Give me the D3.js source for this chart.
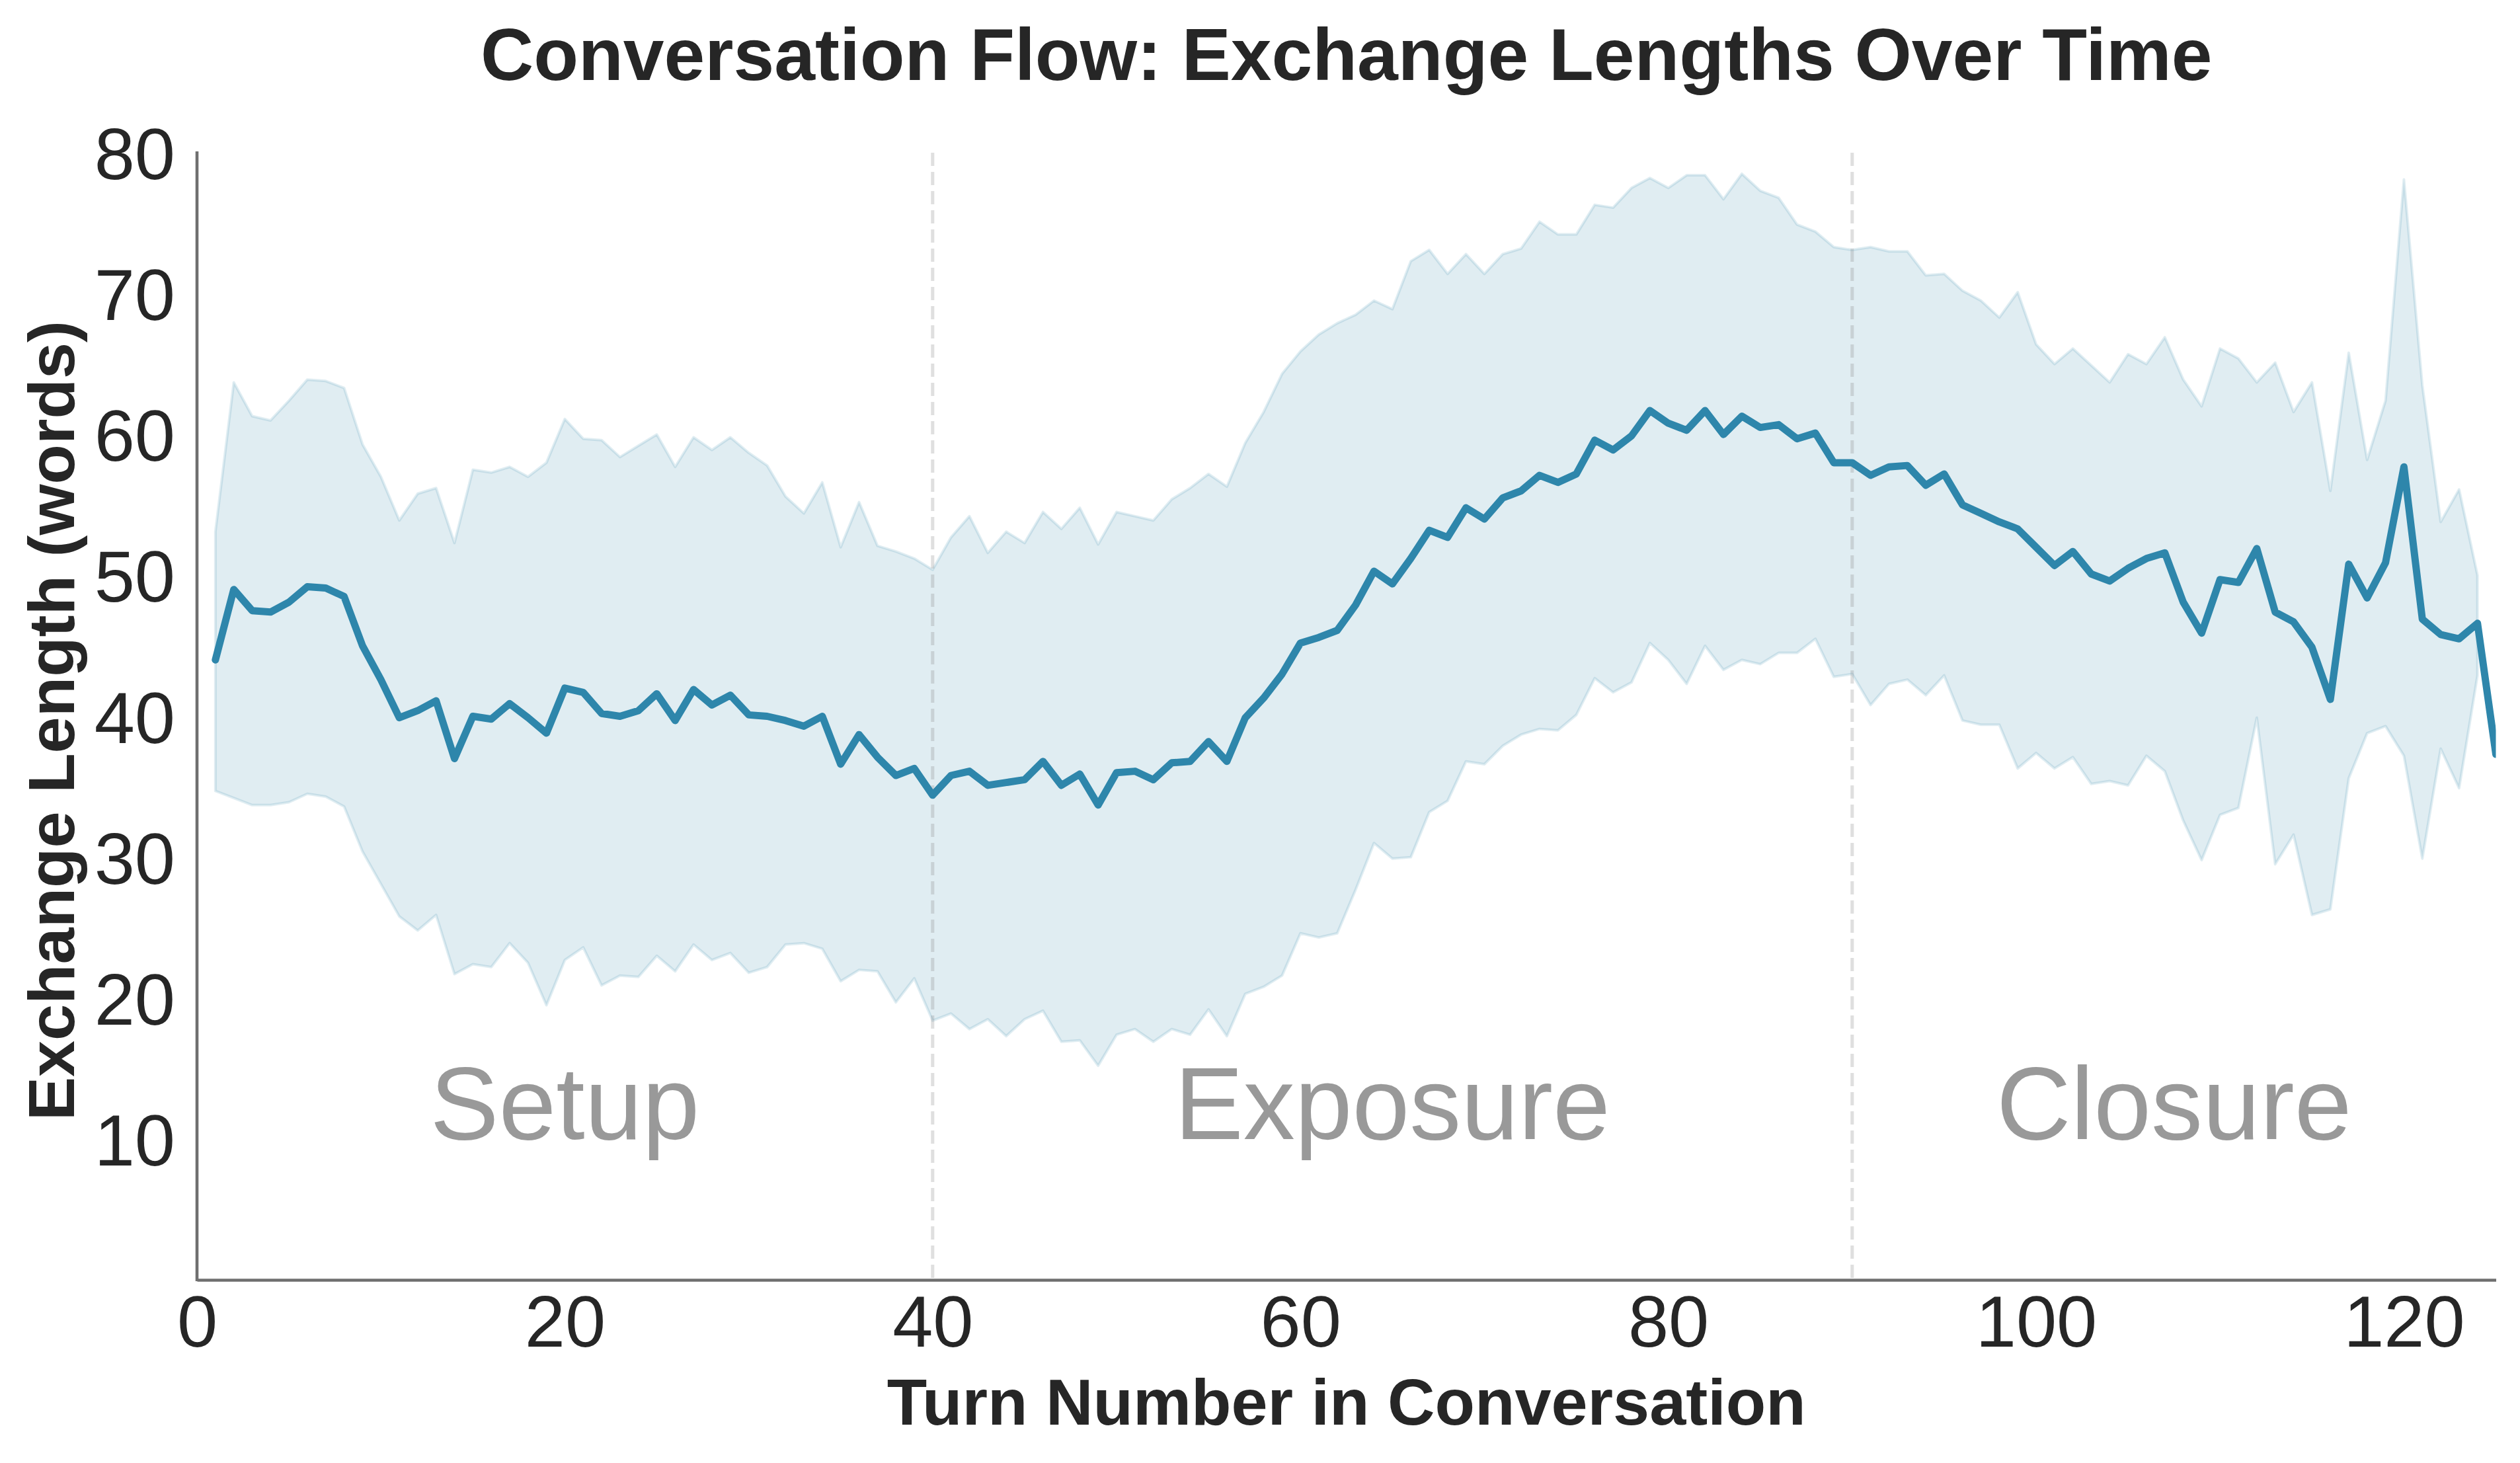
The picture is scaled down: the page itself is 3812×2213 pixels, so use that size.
<!DOCTYPE html>
<html>
<head>
<meta charset="utf-8">
<script src="https://cdn.jsdelivr.net/npm/d3@7"></script>
<style>
  html, body { margin: 0; padding: 0; background: #ffffff; }
  svg { display: block; }
  text { font-family: "Liberation Sans", Arial, sans-serif; }
</style>
</head>
<body>
<script>
// ---------------- data ----------------
const titleText = "Conversation Flow: Exchange Lengths Over Time";
const xLabel = "Turn Number in Conversation";
const yLabel = "Exchange Length (words)";

const meanLength = [
  44.0, 49.0, 47.5, 47.4, 48.1, 49.2, 49.1, 48.5, 45.0, 42.6,
  39.9, 40.4, 41.1, 37.0, 40.0, 39.8, 40.9, 39.9, 38.8, 42.0,
  41.7, 40.2, 40.0, 40.4, 41.6, 39.7, 41.9, 40.8, 41.5, 40.1,
  40.0, 39.7, 39.3, 40.0, 36.6, 38.7, 37.1, 35.8, 36.3, 34.4,
  35.8, 36.1, 35.1, 35.3, 35.5, 36.8, 35.1, 35.9, 33.7, 36.0,
  36.1, 35.5, 36.7, 36.8, 38.2, 36.8, 39.9, 41.3, 43.0, 45.2,
  45.6, 46.1, 47.9, 50.3, 49.4, 51.2, 53.2, 52.7, 54.8, 54.0,
  55.5, 56.0, 57.1, 56.6, 57.2, 59.6, 58.9, 59.9, 61.7, 60.8,
  60.3, 61.7, 60.0, 61.3, 60.5, 60.7, 59.7, 60.1, 58.0, 58.0,
  57.1, 57.7, 57.8, 56.4, 57.2, 55.0, 54.4, 53.8, 53.3, 52.0,
  50.7, 51.7, 50.1, 49.6, 50.5, 51.2, 51.6, 48.1, 45.9, 49.7,
  49.5, 51.9, 47.4, 46.7, 44.9, 41.2, 50.8, 48.4, 50.9, 57.7,
  46.9, 45.8, 45.5, 46.6, 37.3
];

const upperBound = [
  53.1, 63.7, 61.3, 61.0, 62.4, 63.9, 63.8, 63.3, 59.3, 57.0,
  53.9, 55.8, 56.2, 52.3, 57.5, 57.3, 57.7, 57.0, 58.0, 61.1,
  59.7, 59.6, 58.4, 59.2, 60.0, 57.7, 59.8, 58.9, 59.8, 58.7,
  57.8, 55.6, 54.4, 56.6, 52.0, 55.2, 52.1, 51.7, 51.2, 50.4,
  52.7, 54.2, 51.6, 53.1, 52.3, 54.5, 53.3, 54.8, 52.2, 54.5,
  54.2, 53.9, 55.4, 56.2, 57.2, 56.3, 59.4, 61.6, 64.3, 65.9,
  67.1, 67.9, 68.5, 69.5, 68.9, 72.3, 73.1, 71.4, 72.8, 71.4,
  72.8, 73.2, 75.1, 74.2, 74.2, 76.3, 76.1, 77.5, 78.2, 77.5,
  78.4, 78.4, 76.7, 78.5, 77.3, 76.8, 74.9, 74.4, 73.3, 73.1,
  73.3, 73.0, 73.0, 71.3, 71.4, 70.2, 69.5, 68.3, 70.1, 66.4,
  65.0, 66.1, 64.9, 63.7, 65.7, 65.0, 66.9, 63.9, 62.0, 66.1,
  65.4, 63.7, 65.1, 61.6, 63.7, 56.0, 65.8, 58.2, 62.4, 78.1,
  63.5, 53.8, 56.1, 50.0
];

const lowerBound = [
  34.7, 34.2, 33.7, 33.7, 33.9, 34.5, 34.3, 33.6, 30.4, 28.1,
  25.8, 24.8, 25.9, 21.7, 22.4, 22.2, 23.9, 22.5, 19.5, 22.7,
  23.6, 20.9, 21.6, 21.5, 23.0, 21.9, 23.8, 22.7, 23.2, 21.8,
  22.2, 23.8, 23.9, 23.5, 21.2, 22.0, 21.9, 19.7, 21.4, 18.4,
  18.9, 17.8, 18.5, 17.3, 18.5, 19.1, 16.9, 17.0, 15.2, 17.4,
  17.8, 16.9, 17.8, 17.4, 19.2, 17.3, 20.3, 20.8, 21.6, 24.6,
  24.3, 24.6, 27.7, 31.0, 29.9, 30.0, 33.2, 34.0, 36.8, 36.6,
  37.9, 38.7, 39.1, 39.0, 40.1, 42.7, 41.7, 42.4, 45.2, 44.0,
  42.3, 45.0, 43.3, 44.0, 43.7, 44.5, 44.5, 45.5, 42.8, 43.0,
  40.8, 42.3, 42.6, 41.5, 42.9, 39.7, 39.4, 39.4, 36.3, 37.4,
  36.3, 37.1, 35.2, 35.4, 35.1, 37.2, 36.1, 32.6, 29.8, 33.0,
  33.5, 39.9, 29.5, 31.6, 25.9, 26.3, 35.6, 38.8, 39.3, 37.2,
  29.9, 37.7, 34.9, 42.9
];

const phaseNames = ["Setup", "Exposure", "Closure"];
const phaseCenters = [20, 65, 107.5];
const phaseBoundaries = [40, 90];
const xTicks = [0, 20, 40, 60, 80, 100, 120];
const yTicks = [10, 20, 30, 40, 50, 60, 70, 80];

// ---------------- layout ----------------
const W = 3812, H = 2213;
const plotLeft = 298, plotRight = 3775.5, plotTop = 231, plotBottom = 1936;
const lineColor = "#2E86AB";
const textColor = "#262626";

const svg = d3.select("body").append("svg")
  .attr("width", W).attr("height", H)
  .attr("viewBox", `0 0 ${W} ${H}`);

svg.append("rect").attr("width", W).attr("height", H).attr("fill", "#ffffff");

const x = d3.scaleLinear().domain([0, 125]).range([plotLeft, plotRight]);
const y = d3.scaleLinear().domain([0, 80]).range([plotBottom, plotTop]);

svg.append("defs").append("clipPath").attr("id", "plotClip")
  .append("rect")
  .attr("x", plotLeft).attr("y", plotTop - 20)
  .attr("width", plotRight - plotLeft).attr("height", plotBottom - plotTop + 20);

const meanData = meanLength.map((v, i) => ({ turn: i + 1, v }));
const bandData = upperBound.map((u, i) => ({ turn: i + 1, hi: u, lo: lowerBound[i] }));

const plot = svg.append("g").attr("clip-path", "url(#plotClip)");

// band
plot.append("path")
  .datum(bandData)
  .attr("d", d3.area().x(d => x(d.turn)).y0(d => y(d.lo)).y1(d => y(d.hi)))
  .attr("fill", lineColor).attr("fill-opacity", 0.15)
  .attr("stroke", lineColor).attr("stroke-opacity", 0.15)
  .attr("stroke-width", 4).attr("stroke-linejoin", "round");

// phase boundaries
plot.selectAll("line.phase")
  .data(phaseBoundaries)
  .enter().append("line")
  .attr("class", "phase")
  .attr("x1", d => x(d)).attr("x2", d => x(d))
  .attr("y1", y(80)).attr("y2", y(0))
  .attr("stroke", "#808080").attr("stroke-opacity", 0.25)
  .attr("stroke-width", 5)
  .attr("stroke-dasharray", "20,9");

// mean line
plot.append("path")
  .datum(meanData)
  .attr("d", d3.line().x(d => x(d.turn)).y(d => y(d.v)))
  .attr("fill", "none")
  .attr("stroke", lineColor)
  .attr("stroke-width", 11)
  .attr("stroke-linejoin", "round")
  .attr("stroke-linecap", "round");

// phase labels
svg.selectAll("text.phaseLabel")
  .data(phaseNames)
  .enter().append("text")
  .attr("class", "phaseLabel")
  .attr("x", (d, i) => x(phaseCenters[i]))
  .attr("y", y(10))
  .attr("text-anchor", "middle")
  .attr("font-size", 156)
  .attr("fill", "#999999")
  .text(d => d);

// axes
const xAxis = d3.axisBottom(x).tickValues(xTicks).tickSize(0).tickSizeOuter(0).tickPadding(23);
const yAxis = d3.axisLeft(y).tickValues(yTicks).tickSize(0).tickSizeOuter(0).tickPadding(33);

const gx = svg.append("g").attr("transform", `translate(0,${plotBottom})`).call(xAxis);
const gy = svg.append("g").attr("transform", `translate(${plotLeft},0)`).call(yAxis);

[gx, gy].forEach(g => {
  g.select(".domain").attr("stroke", "#6f6f6f").attr("stroke-width", 4.6);
  g.selectAll(".tick text")
    .attr("font-size", 110)
    .attr("fill", textColor)
    .attr("font-family", '"Liberation Sans", Arial, sans-serif');
});
gy.selectAll(".tick text").attr("dy", "0.36em");

// y domain should start at plot top
gy.select(".domain").attr("d", `M0,${plotTop - 2}V${plotBottom + 2}`);

// title
svg.append("text")
  .attr("x", (plotLeft + plotRight) / 2)
  .attr("y", 121)
  .attr("text-anchor", "middle")
  .attr("font-size", 111)
  .attr("font-weight", "bold")
  .attr("fill", textColor)
  .text(titleText);

// x label
svg.append("text")
  .attr("x", (plotLeft + plotRight) / 2)
  .attr("y", 2155)
  .attr("text-anchor", "middle")
  .attr("font-size", 99)
  .attr("font-weight", "bold")
  .attr("fill", textColor)
  .text(xLabel);

// y label
svg.append("text")
  .attr("transform", `translate(112,1090) rotate(-90)`)
  .attr("text-anchor", "middle")
  .attr("font-size", 99)
  .attr("font-weight", "bold")
  .attr("fill", textColor)
  .text(yLabel);
</script>
</body>
</html>
